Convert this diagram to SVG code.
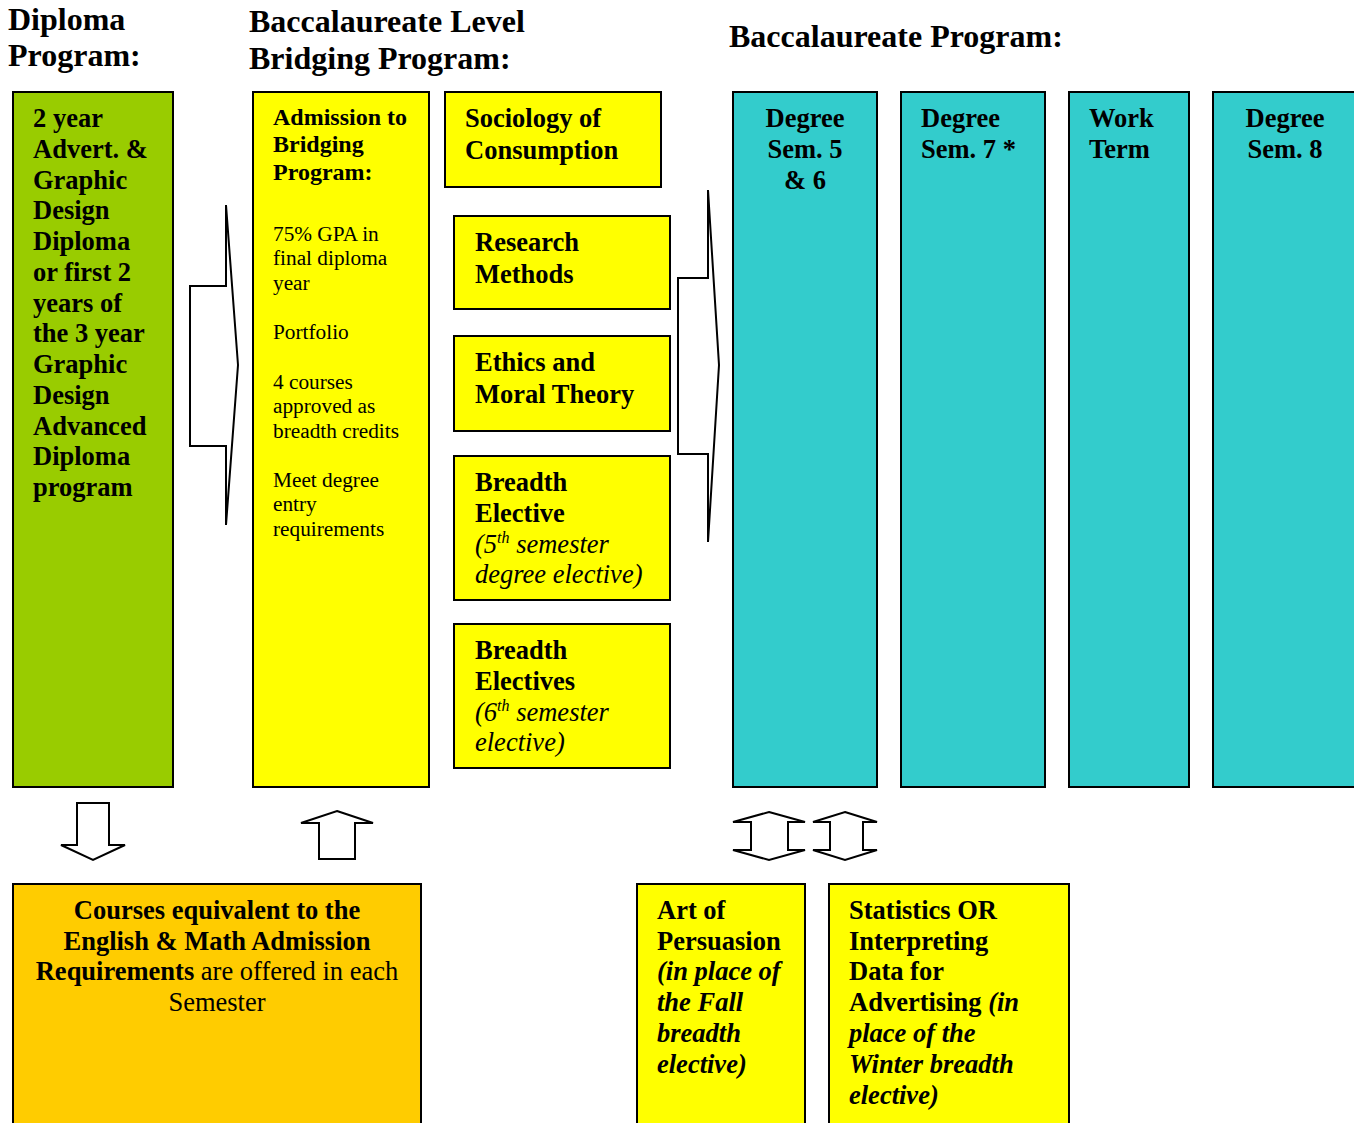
<svg xmlns="http://www.w3.org/2000/svg" width="1354" height="1123" viewBox="0 0 1354 1123">
<style>
text{font-family:"Liberation Serif","Times New Roman",serif;fill:#000}
.h{font-size:32px;font-weight:bold}
.t{font-size:26.5px;font-weight:bold}
.s{font-size:24px;font-weight:bold}
.r{font-size:21.3px}
.i{font-style:italic}
.n{font-weight:normal}
.box{stroke:#000;stroke-width:2}
.g{fill:#99CC00}
.y{fill:#FFFF00}
.c{fill:#33CCCC}
.o{fill:#FFCC00}
.arr{fill:#fff;stroke:#000;stroke-width:2;stroke-linejoin:miter}
</style>
<rect width="1354" height="1123" fill="#fff"/>
<g id="headers">
<text class="h" x="8" y="30">Diploma</text>
<text class="h" x="8" y="66">Program:</text>
<text class="h" x="249" y="32">Baccalaureate Level</text>
<text class="h" x="249" y="69">Bridging Program:</text>
<text class="h" x="729" y="47">Baccalaureate Program:</text>
</g>
<g id="diploma">
<rect class="box g" x="13" y="92" width="160" height="695"/>
<text class="t" x="33" y="127">2 year</text>
<text class="t" x="33" y="158">Advert. &amp;</text>
<text class="t" x="33" y="189">Graphic</text>
<text class="t" x="33" y="219">Design</text>
<text class="t" x="33" y="250">Diploma</text>
<text class="t" x="33" y="281">or first 2</text>
<text class="t" x="33" y="312">years of</text>
<text class="t" x="33" y="342">the 3 year</text>
<text class="t" x="33" y="373">Graphic</text>
<text class="t" x="33" y="404">Design</text>
<text class="t" x="33" y="435">Advanced</text>
<text class="t" x="33" y="465">Diploma</text>
<text class="t" x="33" y="496">program</text>
</g>
<g id="admission">
<rect class="box y" x="253" y="92" width="176" height="695"/>
<text class="s" x="273" y="125">Admission to</text>
<text class="s" x="273" y="152">Bridging</text>
<text class="s" x="273" y="180">Program:</text>
<text class="r" x="273" y="241">75% GPA in</text>
<text class="r" x="273" y="265">final diploma</text>
<text class="r" x="273" y="290">year</text>
<text class="r" x="273" y="339">Portfolio</text>
<text class="r" x="273" y="389">4 courses</text>
<text class="r" x="273" y="413">approved as</text>
<text class="r" x="273" y="438">breadth credits</text>
<text class="r" x="273" y="487">Meet degree</text>
<text class="r" x="273" y="511">entry</text>
<text class="r" x="273" y="536">requirements</text>
</g>
<g id="sociology">
<rect class="box y" x="445" y="92" width="216" height="95"/>
<text class="t" x="465" y="127">Sociology of</text>
<text class="t" x="465" y="159">Consumption</text>
</g>
<g id="research">
<rect class="box y" x="454" y="216" width="216" height="93"/>
<text class="t" x="475" y="251">Research</text>
<text class="t" x="475" y="283">Methods</text>
</g>
<g id="ethics">
<rect class="box y" x="454" y="336" width="216" height="95"/>
<text class="t" x="475" y="371">Ethics and</text>
<text class="t" x="475" y="403">Moral Theory</text>
</g>
<g id="breadth5">
<rect class="box y" x="454" y="456" width="216" height="144"/>
<text class="t" x="475" y="491">Breadth</text>
<text class="t" x="475" y="522">Elective</text>
<text class="t i n" x="475" y="553">(5<tspan dy="-10" font-size="16">th</tspan><tspan dy="10"> semester</tspan></text>
<text class="t i n" x="475" y="583">degree elective)</text>
</g>
<g id="breadth6">
<rect class="box y" x="454" y="624" width="216" height="144"/>
<text class="t" x="475" y="659">Breadth</text>
<text class="t" x="475" y="690">Electives</text>
<text class="t i n" x="475" y="721">(6<tspan dy="-10" font-size="16">th</tspan><tspan dy="10"> semester</tspan></text>
<text class="t i n" x="475" y="751">elective)</text>
</g>
<g id="sem56">
<rect class="box c" x="733" y="92" width="144" height="695"/>
<text class="t" x="805" y="127" text-anchor="middle">Degree</text>
<text class="t" x="805" y="158" text-anchor="middle">Sem. 5</text>
<text class="t" x="805" y="189" text-anchor="middle">&amp; 6</text>
</g>
<g id="sem7">
<rect class="box c" x="901" y="92" width="144" height="695"/>
<text class="t" x="921" y="127">Degree</text>
<text class="t" x="921" y="158">Sem. 7 *</text>
</g>
<g id="work">
<rect class="box c" x="1069" y="92" width="120" height="695"/>
<text class="t" x="1089" y="127">Work</text>
<text class="t" x="1089" y="158">Term</text>
</g>
<g id="sem8">
<rect class="box c" x="1213" y="92" width="150" height="695"/>
<text class="t" x="1285" y="127" text-anchor="middle">Degree</text>
<text class="t" x="1285" y="158" text-anchor="middle">Sem. 8</text>
</g>
<g id="english">
<rect class="box o" x="13" y="884" width="408" height="250"/>
<text class="t" x="217" y="919" text-anchor="middle">Courses equivalent to the</text>
<text class="t" x="217" y="950" text-anchor="middle">English &amp; Math Admission</text>
<text class="t" x="217" y="980" text-anchor="middle">Requirements<tspan class="n"> are offered in each</tspan></text>
<text class="t n" x="217" y="1011" text-anchor="middle">Semester</text>
</g>
<g id="persuasion">
<rect class="box y" x="637" y="884" width="168" height="250"/>
<text class="t" x="657" y="919">Art of</text>
<text class="t" x="657" y="950">Persuasion</text>
<text class="t i" x="657" y="980">(in place of</text>
<text class="t i" x="657" y="1011">the Fall</text>
<text class="t i" x="657" y="1042">breadth</text>
<text class="t i" x="657" y="1073">elective)</text>
</g>
<g id="statistics">
<rect class="box y" x="829" y="884" width="240" height="250"/>
<text class="t" x="849" y="919">Statistics OR</text>
<text class="t" x="849" y="950">Interpreting</text>
<text class="t" x="849" y="980">Data for</text>
<text class="t" x="849" y="1011">Advertising<tspan class="i"> (in</tspan></text>
<text class="t i" x="849" y="1042">place of the</text>
<text class="t i" x="849" y="1073">Winter breadth</text>
<text class="t i" x="849" y="1104">elective)</text>
</g>
<g id="connectors">
<polygon class="arr" points="226,205 238,365 226,525 226,446 190,446 190,286 226,286"/>
<polygon class="arr" points="708,190 719,365 708,542 708,454 678,454 678,278 708,278"/>
<polygon class="arr" points="77,803 109,803 109,845 125,845 93,860 61,845 77,845"/>
<polygon class="arr" points="337,811 373,823 355,823 355,859 319,859 319,823 301,823"/>
<polygon class="arr" points="769,812 805,822 788,822 788,850 805,850 769,860 733,850 751,850 751,822 733,822"/>
<polygon class="arr" points="845,812 877,822 863,822 863,850 877,850 845,860 813,850 830,850 830,822 813,822"/>
</g>
</svg>
